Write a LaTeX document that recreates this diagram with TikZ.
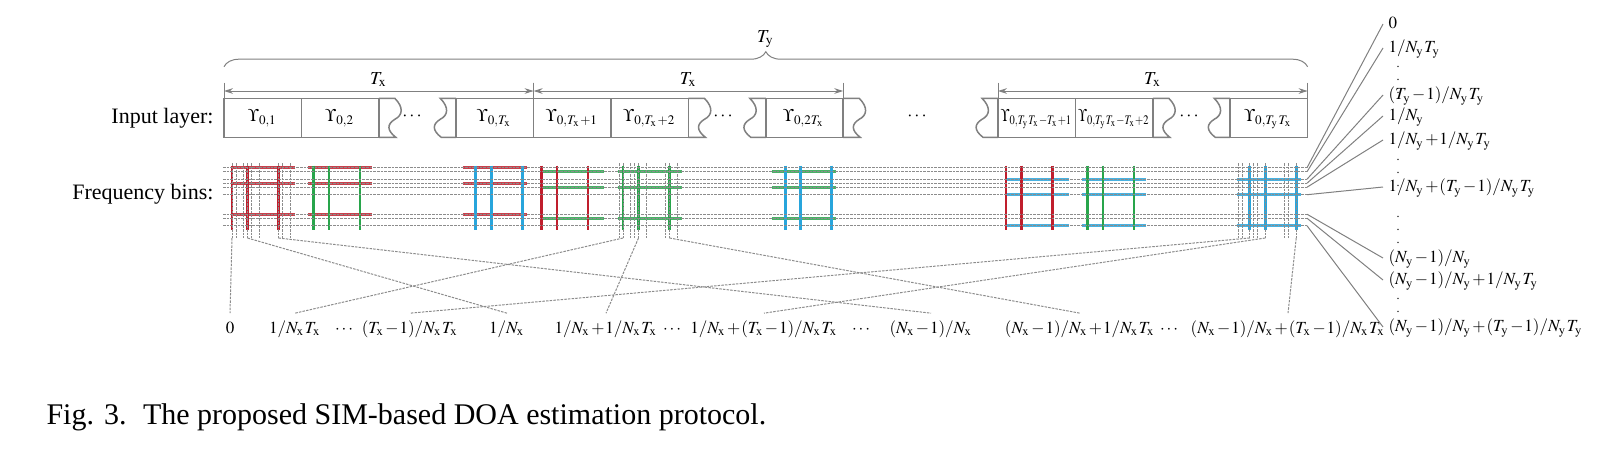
\documentclass[tikz,border=0pt]{standalone}
\usepackage{amsmath}
\usepackage{graphicx}
\usepackage{mathptmx}
\usepackage{fontspec}
\setmainfont{Liberation Serif}
\usetikzlibrary{arrows.meta, decorations.pathreplacing, calc}

\definecolor{binred}{RGB}{192,30,45}
\definecolor{bingreen}{RGB}{40,165,75}
\definecolor{binblue}{RGB}{40,165,220}
\definecolor{linegray}{RGB}{128,128,128}

\newcommand{\Tx}{T_{\mathrm{x}}}
\newcommand{\Ty}{T_{\mathrm{y}}}
\newcommand{\Nx}{N_{\mathrm{x}}}
\newcommand{\Ny}{N_{\mathrm{y}}}
\AtBeginDocument{\medmuskip=1mu\relax}

\begin{document}
\begin{tikzpicture}[x=0.3pt, y=-0.3pt, >={Stealth[length=2.7pt, width=1.7pt]}, line width=0.3pt,
    cellline/.style={draw=linegray, line width=0.45pt},
    gridline/.style={draw=gray!90, line width=0.3pt, dash pattern=on 0.75pt off 0.35pt},
    conn/.style={draw=gray!90, line width=0.3pt, dash pattern=on 0.75pt off 0.35pt},
    rconn/.style={draw=gray, line width=0.3pt},
    hbar/.style={line width=0.8pt, opacity=0.85},
    vbar/.style={line width=0.8pt},
    mathlbl/.style={inner sep=1.5pt, font=\fontsize{5.5}{6}\selectfont,
      text height=4.3pt, text depth=1.5pt},
    binlbl/.style={mathlbl, font=\fontsize{5.1}{6}\selectfont},
    celllbl/.style={mathlbl, font=\fontsize{5.3}{6}\selectfont},
    rlab/.style={binlbl, anchor=west},
    blab/.style={binlbl, anchor=base},
    vdot/.style={inner sep=0pt, font=\fontsize{3.6}{4}\selectfont},
    side/.style={inner sep=0pt, anchor=east, font=\fontsize{6.6}{8}\selectfont}]

  \useasboundingbox (0,0) rectangle (1618,467);

  % ---------- key values ----------
  \def\xo{224}    % left edge of the input layer
  \def\uw{77.4}   % width of one cell
  \def\yt{98.3}   % top of the cells
  \def\yb{137.3}  % bottom of the cells
  \def\yo{167.7}  % first frequency row

  % ---------- brace over the T_y blocks ----------
  \draw[linegray, decorate, decoration={brace, amplitude=4.5pt}] (\xo,66.7) -- (1307.6,66.7);
  \node[mathlbl, anchor=base] (ty) at (765.8,42) {$\Ty$};

  % ---------- T_x dimension arrows ----------
  \foreach \a/\b in {0/4, 4/8, 10/14} {
    \draw[linegray] ({\xo+\uw*\a},82.7) -- ({\xo+\uw*\a},\yt);
    \draw[linegray] ({\xo+\uw*\b},82.7) -- ({\xo+\uw*\b},\yt);
    \draw[linegray, <->] ({\xo+\uw*\a},91) -- ({\xo+\uw*\b},91);
    \node[mathlbl, anchor=base] (tx\a) at ({\xo+\uw*(\a+\b)/2},84) {$\Tx$};
  }

  % ---------- input layer ----------
  \node[side] (inlay) at (214,118) {Input layer:};
  \foreach \i/\lab in {0/{$\Upsilon_{0,1}$}, 1/{$\Upsilon_{0,2}$}, 3/{$\Upsilon_{0,\Tx}$},
      4/{$\Upsilon_{0,\Tx+1}$}, 5/{$\Upsilon_{0,\Tx+2}$}, 7/{$\Upsilon_{0,2\Tx}$},
      10/{\scalebox{0.8}[1]{$\Upsilon_{0,\Ty\Tx-\Tx+1}$}},
      11/{\scalebox{0.8}[1]{$\Upsilon_{0,\Ty\Tx-\Tx+2}$}}, 13/{$\Upsilon_{0,\Ty\Tx}$}} {
    \draw[cellline] ({\xo+\uw*\i},\yt) rectangle ({\xo+\uw*(\i+1)},\yb);
    \node[celllbl] (cell\i) at ({\xo+\uw*(\i+0.5)},117) {\lab};
  }

  % cut cells, wavy edge on the right
  \foreach \i in {2,6,8,12} {
    \pgfmathsetmacro{\xa}{\xo+\uw*\i}
    \pgfmathsetmacro{\xw}{\xa+16}
    \draw[cellline] (\xa,\yt) -- (\xw,\yt)
      .. controls (\xw+9,\yt+9) and (\xw+8,\yt+17) .. (\xw,\yt+21)
      .. controls (\xw-8,\yt+26) and (\xw-8,\yb-7) .. (\xw+1,\yb) -- (\xa,\yb);
  }
  % cut cells, wavy edge on the left
  \foreach \i in {3,7,10,13} {
    \pgfmathsetmacro{\xa}{\xo+\uw*\i}
    \pgfmathsetmacro{\xw}{\xa-16}
    \draw[cellline] (\xa,\yt) -- (\xw,\yt)
      .. controls (\xw+9,\yt+9) and (\xw+8,\yt+17) .. (\xw,\yt+21)
      .. controls (\xw-8,\yt+26) and (\xw-8,\yb-7) .. (\xw+1,\yb) -- (\xa,\yb);
  }

  \node[mathlbl] (dots1) at (413,115.7) {$\cdots$};
  \node[mathlbl] (dots2) at (724,115.7) {$\cdots$};
  \node[mathlbl] (dots3) at (918,115.7) {$\cdots$};
  \node[mathlbl] (dots4) at (1190,115.7) {$\cdots$};

  % ---------- frequency bins ----------
  \node[side] (fbins) at (214,194) {Frequency bins:};

  \foreach \i/\hcol/\hf/\vcol/\vf in {0/binred/0/binred/0, 1/binred/0/bingreen/4, 3/binred/0/binblue/11.5,
      4/bingreen/4/binred/0, 5/bingreen/4/bingreen/4, 7/bingreen/4/binblue/11.5,
      10/binblue/11.5/binred/0, 11/binblue/11.5/bingreen/4, 13/binblue/11.5/binblue/11.5} {
    \pgfmathsetmacro{\gx}{\xo+\uw*\i+8}
    \foreach \cc in {0,15.5,46.5}
      \draw[hbar, \hcol] (\gx-1.5,\yo+\hf+\cc) -- (\gx+62.5,\yo+\hf+\cc);
    \foreach \cc in {0,15.5,46.5}
      \draw[vbar, \vcol] (\gx+\vf+\cc,165.5) -- (\gx+\vf+\cc,230);
  }

  % dashed rows
  \foreach \cc [count=\ci from 0] in {0,15.5,46.5} {
    \foreach \ff [count=\fn from 0] in {0,4,11.5} {
      \pgfmathtruncatemacro{\rk}{3*\ci+\fn}
      \draw[gridline] (223,\yo+\cc+\ff) -- (1307,\yo+\cc+\ff) coordinate (r\rk);
    }
  }

  % dashed columns
  \foreach \i/\fo/\nm in {0/0/s, 5/4/t, 13/11.5/u} {
    \pgfmathsetmacro{\gx}{\xo+\uw*\i+8}
    \foreach \ff in {0,4,11.5}
      \foreach \cc in {0,15.5,46.5}
        \draw[gridline] (\gx+\ff+\cc,163) -- (\gx+\ff+\cc,238);
    \foreach \cc [count=\ci from 0] in {0,15.5,46.5}
      \coordinate (\nm\ci) at (\gx+\fo+\cc,238);
  }

  % ---------- x bins ----------
  \node[blab] (bx0) at (230,333) {$0$};
  \node[blab] (bx1) at (295,333) {$1/\Nx\Tx$};
  \node[blab] (bd1) at (345,333) {$\cdots$};
  \node[blab] (bx2) at (410,333) {$(\Tx-1)/\Nx\Tx$};
  \node[blab] (bx3) at (507,333) {$1/\Nx$};
  \node[blab] (bx4) at (606,333) {$1/\Nx+1/\Nx\Tx$};
  \node[blab] (bd2) at (673,333) {$\cdots$};
  \node[blab] (bx5) at (764,333) {$1/\Nx+(\Tx-1)/\Nx\Tx$};
  \node[blab] (bd3) at (862,333) {$\cdots$};
  \node[blab] (bx6) at (931,333) {$(\Nx-1)/\Nx$};
  \node[blab] (bx7) at (1080,333) {$(\Nx-1)/\Nx+1/\Nx\Tx$};
  \node[blab] (bd4) at (1170,333) {$\cdots$};
  \node[blab] (bx8) at (1288,333) {$(\Nx-1)/\Nx+(\Tx-1)/\Nx\Tx$};

  \draw[conn] (s0) -- (bx0.north);
  \draw[conn] (t0) -- (bx1.north);
  \draw[conn] (u0) -- (bx2.north);
  \draw[conn] (s1) -- (bx3.north);
  \draw[conn] (t1) -- (bx4.north);
  \draw[conn] (u1) -- (bx5.north);
  \draw[conn] (s2) -- (bx6.north);
  \draw[conn] (t2) -- (bx7.north);
  \draw[conn] (u2) -- (bx8.north);

  % ---------- y bins ----------
  \node[rlab] (ry0) at (1383,24) {$0$};
  \node[rlab] (ry1) at (1383,48) {$1/\Ny\Ty$};
  \node[vdot] (rd1) at (1398,70) {$\vdots$};
  \node[rlab] (ry2) at (1383,95) {$(\Ty-1)/\Ny\Ty$};
  \node[rlab] (ry3) at (1383,116) {$1/\Ny$};
  \node[rlab] (ry4) at (1383,140) {$1/\Ny+1/\Ny\Ty$};
  \node[vdot] (rd2) at (1398,163) {$\vdots$};
  \node[rlab] (ry5) at (1383,187) {$1/\Ny+(\Ty-1)/\Ny\Ty$};
  \node[vdot] (rd3) at (1398,220) {$\vdots$};
  \node[rlab] (ry6) at (1383,258) {$(\Ny-1)/\Ny$};
  \node[rlab] (ry7) at (1383,280) {$(\Ny-1)/\Ny+1/\Ny\Ty$};
  \node[vdot] (rd4) at (1398,302) {$\vdots$};
  \node[rlab] (ry8) at (1383,327) {$(\Ny-1)/\Ny+(\Ty-1)/\Ny\Ty$};

  \foreach \rk in {0,...,8}
    \draw[rconn] (r\rk) -- (ry\rk.west);

  % ---------- caption ----------
  \node[anchor=base west, inner sep=0pt, font=\fontsize{9}{10}\selectfont] (cap) at (46,424.5)
    {Fig. 3.\hspace{0.55em}The proposed SIM-based DOA estimation protocol.};

\end{tikzpicture}
\end{document}
